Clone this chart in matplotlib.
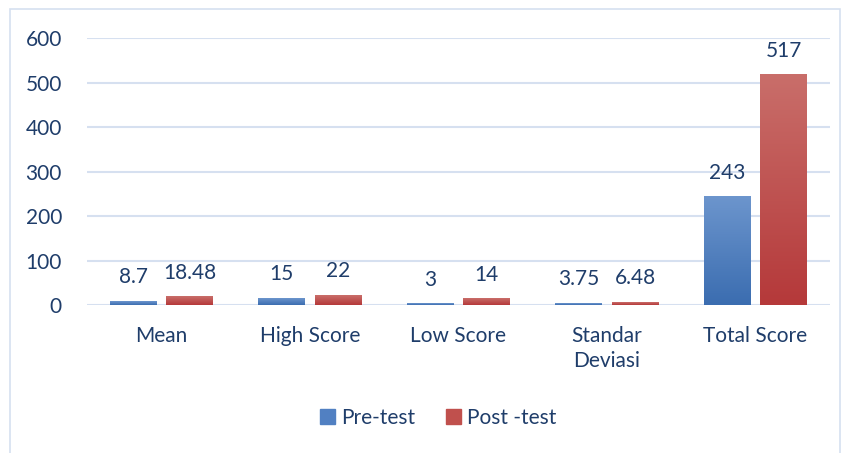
import matplotlib.pyplot as plt
import numpy as np
from matplotlib.colors import LinearSegmentedColormap
from matplotlib.patches import Rectangle

kategori = ["Mean", "High Score", "Low Score", "Standar\nDeviasi", "Total Score"]
pre_test = [8.7, 15, 3, 3.75, 243]
post_test = [18.48, 22, 14, 6.48, 517]
label_pre = ["8.7", "15", "3", "3.75", "243"]
label_post = ["18.48", "22", "14", "6.48", "517"]

teks = "#1f3d6a"
fs = 15
plt.rcParams["font.family"] = ["Lato", "DejaVu Sans"]

fig = plt.figure(figsize=(8.46, 4.53), dpi=100)
ax = fig.add_axes([0.1028, 0.3267, 0.878, 0.5893])

biru = LinearSegmentedColormap.from_list("b", ["#3b6db0", "#6c95cd"])
merah = LinearSegmentedColormap.from_list("r", ["#b5393a", "#c96e6a"])

x = np.arange(len(kategori))
w = 0.316
off = 0.19
grad = np.linspace(0, 1, 100).reshape(-1, 1)

def batang(xs, vals, cmap, labels):
    bars = ax.bar(xs, vals, w, color="none", zorder=3)
    for b, v, lab in zip(bars, vals, labels):
        x0 = b.get_x()
        ax.imshow(grad, extent=(x0, x0 + w, 0, v), origin="lower", cmap=cmap,
                  aspect="auto", zorder=3)
        ax.annotate(lab, (x0 + w / 2, v), xytext=(0, 10), textcoords="offset points",
                    ha="center", va="bottom", fontsize=fs, color=teks)
    return bars

batang(x - off, pre_test, biru, label_pre)
batang(x + off, post_test, merah, label_post)

ax.set_xlim(-0.5, len(kategori) - 0.5)
ax.set_ylim(0, 600)
ax.set_yticks(range(0, 601, 100))
ax.set_xticks(x)
ax.set_xticklabels(kategori, fontsize=fs, color=teks, linespacing=1.35)
ax.tick_params(axis="y", labelsize=fs, labelcolor=teks, length=0, pad=18)
ax.tick_params(axis="x", length=0, pad=15)
ax.grid(axis="y", color="#d6e0f0", linewidth=1.5, zorder=0)
ax.set_axisbelow(True)
for s in ax.spines.values():
    s.set_visible(False)

# legenda
h1 = Rectangle((0, 0), 1, 1, color="#5180c2")
h2 = Rectangle((0, 0), 1, 1, color="#c0504d")
fig.legend([h1, h2], ["Pre-test", "Post -test"], loc="center", bbox_to_anchor=(0.518, 0.078),
           ncol=2, frameon=False, fontsize=fs, labelcolor=teks, handlelength=0.7,
           handleheight=0.7, handletextpad=0.3, columnspacing=1.5)

fig.patches.append(Rectangle((10 / 846, -0.01), 830 / 846, 0.99, transform=fig.transFigure,
                             fill=False, edgecolor="#d6e0f0", linewidth=1.2))

plt.savefig("out.png", dpi=100)
plt.close()
